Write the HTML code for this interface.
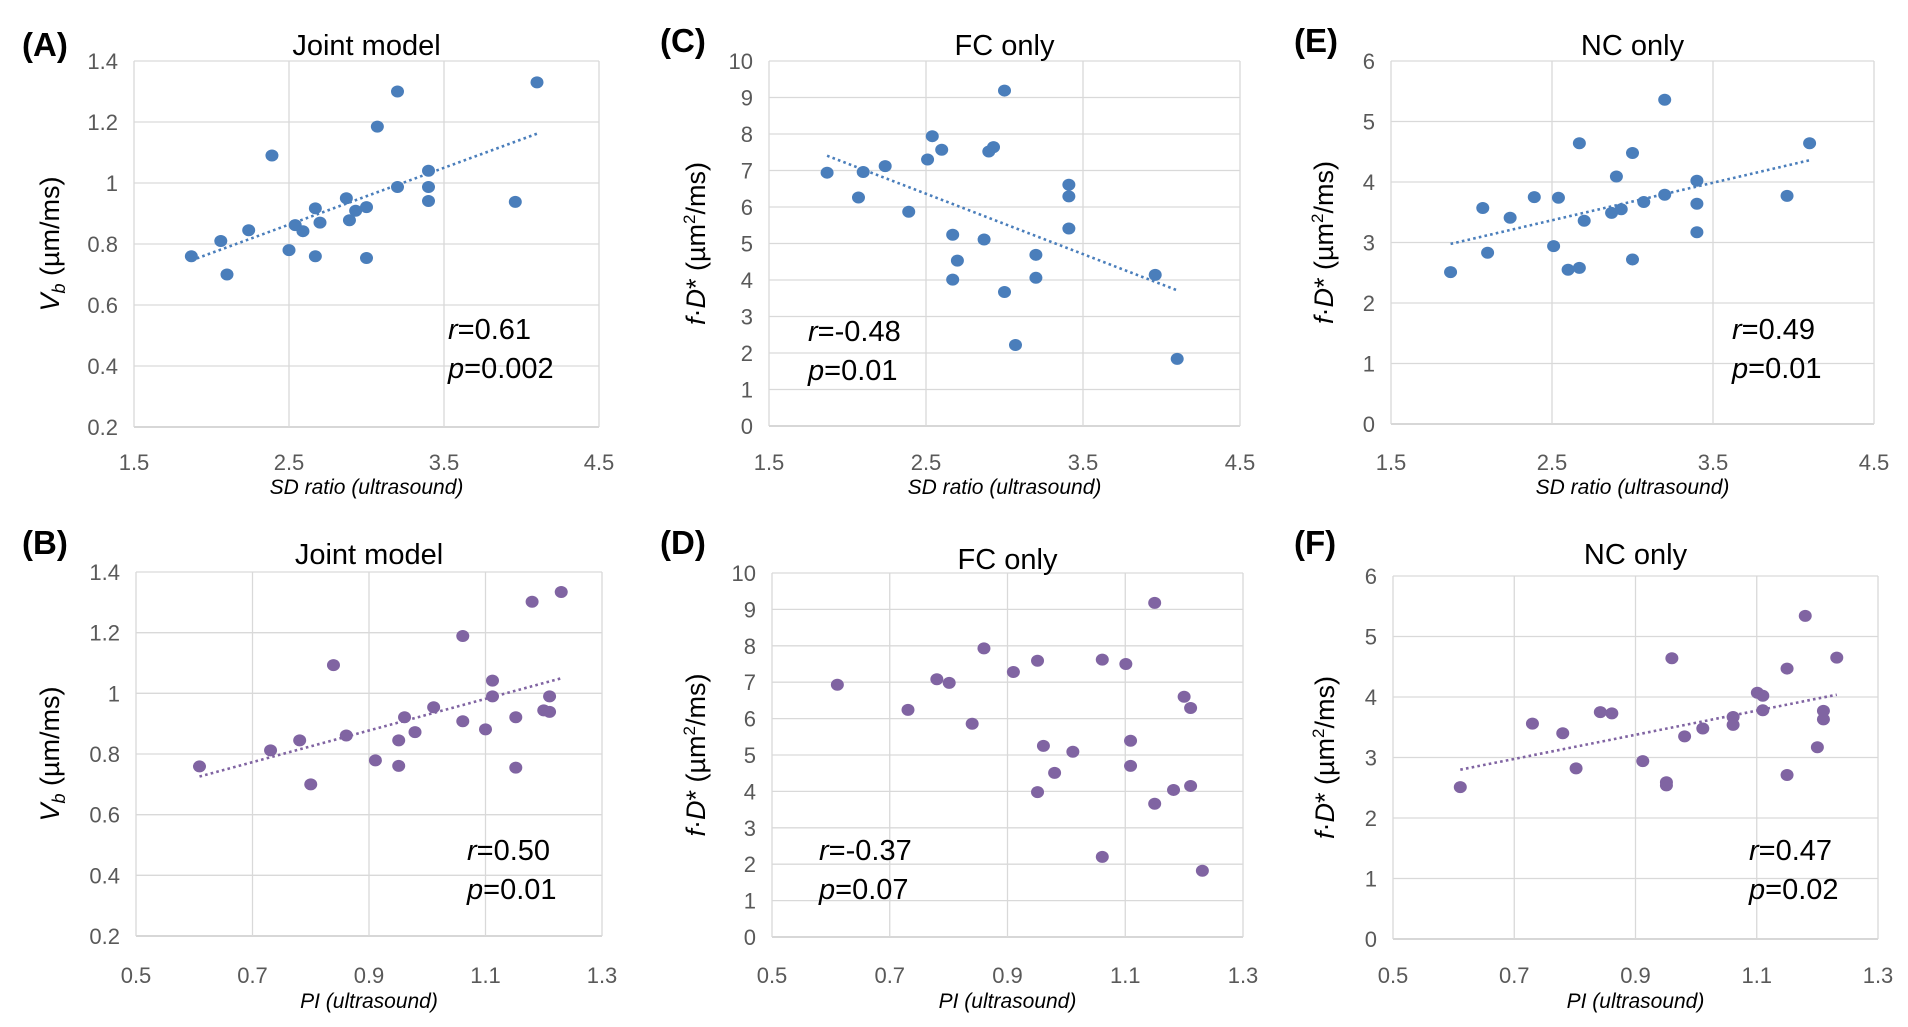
<!DOCTYPE html>
<html><head><meta charset="utf-8"><style>
html,body{margin:0;padding:0;background:#fff}
svg{display:block}
text{font-family:"Liberation Sans",sans-serif}
</style></head><body>
<svg id="fig" width="1908" height="1027" viewBox="0 0 1908 1027"></svg>
<script>
// ---- data ----
const aX=[1.87,2.06,2.10,2.24,2.39,2.50,2.54,2.59,2.67,2.67,2.70,2.87,2.89,2.93,3.00,3.00,3.07,3.20,3.20,3.40,3.40,3.40,3.96,4.10];
const aY=[0.76,0.81,0.70,0.845,1.09,0.78,0.862,0.842,0.917,0.76,0.87,0.95,0.878,0.909,0.921,0.754,1.185,1.30,0.987,1.04,0.987,0.941,0.938,1.33];
const bX=[0.609,0.731,0.781,0.80,0.839,0.861,0.911,0.951,0.951,0.961,0.979,1.011,1.061,1.061,1.10,1.112,1.112,1.152,1.152,1.18,1.20,1.21,1.21,1.23];
const bY=[0.759,0.812,0.845,0.70,1.093,0.861,0.779,0.845,0.761,0.921,0.872,0.954,1.189,0.908,0.881,1.042,0.99,0.921,0.755,1.302,0.944,0.99,0.939,1.334];
const cX=[1.87,2.07,2.10,2.24,2.39,2.51,2.54,2.60,2.67,2.67,2.70,2.87,2.90,2.93,3.00,3.00,3.07,3.20,3.20,3.41,3.41,3.41,3.96,4.10];
const cY=[6.94,6.26,6.96,7.12,5.87,7.30,7.94,7.57,5.24,4.01,4.53,5.11,7.52,7.64,9.19,3.67,2.22,4.69,4.06,6.61,6.29,5.41,4.14,1.84];
const dX=[0.611,0.731,0.780,0.801,0.840,0.860,0.910,0.951,0.951,0.961,0.980,1.011,1.061,1.061,1.101,1.109,1.109,1.150,1.150,1.182,1.200,1.211,1.211,1.231];
const dY=[6.93,6.24,7.08,6.98,5.86,7.93,7.28,7.59,3.98,5.25,4.51,5.09,7.62,2.20,7.50,5.39,4.70,9.18,3.66,4.04,6.60,6.29,4.15,1.82];
const eX=[1.87,2.07,2.10,2.24,2.39,2.51,2.54,2.60,2.67,2.67,2.70,2.87,2.90,2.93,3.00,3.00,3.07,3.20,3.20,3.40,3.40,3.40,3.96,4.10];
const eY=[2.51,3.57,2.83,3.41,3.75,2.94,3.74,2.55,4.64,2.58,3.36,3.49,4.09,3.55,4.48,2.72,3.67,5.36,3.79,4.02,3.64,3.17,3.77,4.64];
const fX=[0.611,0.730,0.780,0.802,0.842,0.861,0.912,0.951,0.951,0.960,0.981,1.011,1.061,1.061,1.101,1.110,1.110,1.150,1.150,1.180,1.200,1.210,1.210,1.232];
const fY=[2.51,3.56,3.40,2.82,3.75,3.73,2.94,2.59,2.54,4.64,3.35,3.48,3.67,3.54,4.07,4.02,3.78,4.47,2.71,5.34,3.17,3.77,3.63,4.65];
const sdTicks=["1.5","2.5","3.5","4.5"];
const piTicks=["0.5","0.7","0.9","1.1","1.3"];
const vbTicks=["0.2","0.4","0.6","0.8","1","1.2","1.4"];
const fc10Ticks=["0","1","2","3","4","5","6","7","8","9","10"];
const nc6Ticks=["0","1","2","3","4","5","6"];
const statsR=["0.61","0.50","-0.48","-0.37","0.49","0.47"];
const statsP=["0.002","0.01","0.01","0.07","0.01","0.02"];

const BLUE="#4a7ebb", PURPLE="#8064a2";
const NS="http://www.w3.org/2000/svg";
const svg=document.getElementById('fig');
function mk(tag,attrs,parent){const e=document.createElementNS(NS,tag);for(const k in attrs)e.setAttribute(k,attrs[k]);(parent||svg).appendChild(e);return e;}

const panels=[
 {id:'a',letter:'(A)',title:'Joint model',xs:aX,ys:aY,xt:sdTicks,yt:vbTicks,xl:'SD ratio (ultrasound)',yl:'vb',col:BLUE,trend:true,
  L:134,R:599,T:61,B:427,lx:22,ly:44,ty:44,xty:462,xly:486,ylx:49,sx:448,sy:328,k:0},
 {id:'b',letter:'(B)',title:'Joint model',xs:bX,ys:bY,xt:piTicks,yt:vbTicks,xl:'PI (ultrasound)',yl:'vb',col:PURPLE,trend:true,
  L:136,R:602,T:572,B:936,lx:22,ly:542,ty:553,xty:975,xly:1000,ylx:49,sx:467,sy:849,k:1},
 {id:'c',letter:'(C)',title:'FC only',xs:cX,ys:cY,xt:sdTicks,yt:fc10Ticks,xl:'SD ratio (ultrasound)',yl:'fd',col:BLUE,trend:true,
  L:769,R:1240,T:61,B:426,lx:660,ly:40,ty:44,xty:462,xly:486,ylx:695,sx:808,sy:330,k:2},
 {id:'d',letter:'(D)',title:'FC only',xs:dX,ys:dY,xt:piTicks,yt:fc10Ticks,xl:'PI (ultrasound)',yl:'fd',col:PURPLE,trend:false,
  L:772,R:1243,T:573,B:937,lx:660,ly:542,ty:558,xty:975,xly:1000,ylx:695,sx:819,sy:849,k:3},
 {id:'e',letter:'(E)',title:'NC only',xs:eX,ys:eY,xt:sdTicks,yt:nc6Ticks,xl:'SD ratio (ultrasound)',yl:'fd',col:BLUE,trend:true,
  L:1391,R:1874,T:61,B:424,lx:1294,ly:40,ty:44,xty:462,xly:486,ylx:1323,sx:1732,sy:328,k:4},
 {id:'f',letter:'(F)',title:'NC only',xs:fX,ys:fY,xt:piTicks,yt:nc6Ticks,xl:'PI (ultrasound)',yl:'fd',col:PURPLE,trend:true,
  L:1393,R:1878,T:576,B:939,lx:1294,ly:542,ty:553,xty:975,xly:1000,ylx:1324,sx:1749,sy:849,k:5}
];

panels.forEach(p=>{
  const g=mk('g',{});
  
  
  const x0=+p.xt[0], x1=+p.xt[p.xt.length-1], y0=+p.yt[0], y1=+p.yt[p.yt.length-1];
  const sx=v=>p.L+(v-x0)/(x1-x0)*(p.R-p.L);
  const sy=v=>p.B-(v-y0)/(y1-y0)*(p.B-p.T);
  p.yt.forEach((t,i)=>{
    const y=sy(+t);
    const ln=mk('line',{x1:p.L,x2:p.R,y1:y,y2:y,stroke:i===0?'#bfbfbf':'#d9d9d9','stroke-width':1.3},g);
    
    
    const tx=mk('text',{x:p.L-16,y:y+8,'text-anchor':'end','font-size':22,fill:'#595959'},g);
    tx.textContent=t;
    
    
  });
  p.xt.forEach((t,i)=>{
    const x=sx(+t);
    const ln=mk('line',{x1:x,x2:x,y1:p.T,y2:p.B,stroke:'#d9d9d9','stroke-width':1.3},g);
    
    
    const tx=mk('text',{x:x,y:p.xty+8,'text-anchor':'middle','font-size':22,fill:'#595959'},g);
    tx.textContent=t;
    
    
  });
  const n=p.xs.length;
  if(p.trend){
    let mx=0,my=0; for(let i=0;i<n;i++){mx+=p.xs[i];my+=p.ys[i];} mx/=n; my/=n;
    let sxy=0,sxx=0; for(let i=0;i<n;i++){sxy+=(p.xs[i]-mx)*(p.ys[i]-my);sxx+=(p.xs[i]-mx)**2;}
    const m=sxy/sxx, b=my-m*mx; const xa=Math.min(...p.xs), xb=Math.max(...p.xs);
    const tl=mk('line',{x1:sx(xa),y1:sy(m*xa+b),x2:sx(xb),y2:sy(m*xb+b),stroke:p.col,'stroke-width':2.6,'stroke-dasharray':'2.6 3.2'},g);
    
    
  }
  for(let i=0;i<n;i++){
    const c=mk('ellipse',{cx:sx(p.xs[i]),cy:sy(p.ys[i]),rx:6.5,ry:6,fill:p.col},g);
    
    
  }
  const lt=mk('text',{x:p.lx,y:p.ly+12,'font-size':33,'font-weight':'bold',fill:'#000'},g);
  lt.textContent=p.letter;
  
  
  const tt=mk('text',{x:(p.L+p.R)/2,y:p.ty+11,'text-anchor':'middle','font-size':29,fill:'#000'},g);
  tt.textContent=p.title;
  
  
  const xl=mk('text',{x:(p.L+p.R)/2,y:p.xly+8,'text-anchor':'middle','font-size':21,'font-style':'italic',fill:'#000'},g);
  xl.textContent=p.xl;
  
  
  const yc=(p.T+p.B)/2;
  const yl=mk('text',{x:0,y:0,'text-anchor':'middle','font-size':27,fill:'#000',transform:`translate(${p.ylx+10},${yc}) rotate(-90)`},g);
  if(p.yl==='vb'){
    yl.innerHTML='<tspan font-style="italic">V</tspan><tspan font-style="italic" font-size="18" dy="6">b</tspan><tspan dy="-6"> (µm/ms)</tspan>';
  } else {
    yl.innerHTML='<tspan font-style="italic">f</tspan>·<tspan font-style="italic">D</tspan>* (µm<tspan font-size="17" dy="-10">2</tspan><tspan dy="10">/ms)</tspan>';
  }
  
  
  const rt=mk('text',{x:p.sx,y:p.sy+11,'font-size':29,fill:'#000'},g);
  rt.innerHTML='<tspan font-style="italic">r</tspan>='+statsR[p.k];
  
  
  const pt=mk('text',{x:p.sx,y:p.sy+50,'font-size':29,fill:'#000'},g);
  pt.innerHTML='<tspan font-style="italic">p</tspan>='+statsP[p.k];
  
  
});
</script>
</body></html>
